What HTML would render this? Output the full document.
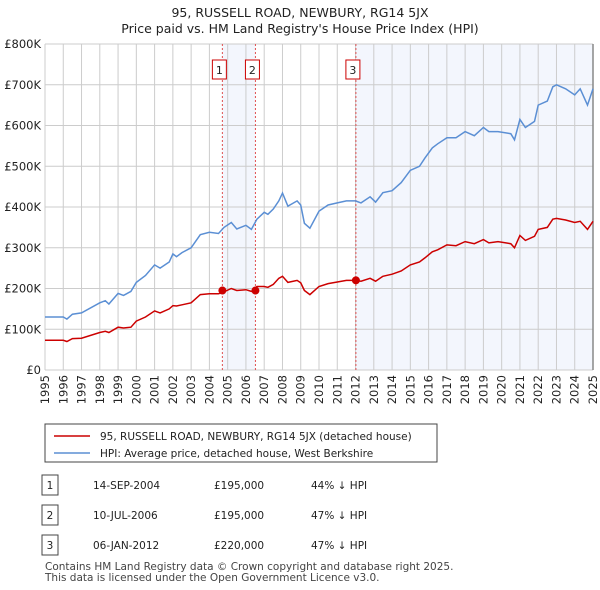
<!DOCTYPE html>
<html><head><meta charset="utf-8"><style>
body{margin:0;background:#fff;font-family:"Liberation Sans","DejaVu Sans",sans-serif;}
#wrap{position:relative;width:600px;height:590px;overflow:hidden}
svg text{font-family:"DejaVu Sans","Liberation Sans",sans-serif}
</style></head><body><div id="wrap">
<svg id="chart" width="600" height="590"></svg>
</div>
<script>
const yTicks=[0,100,200,300,400,500,600,700,800];
const yTickLabels=["£0","£100K","£200K","£300K","£400K","£500K","£600K","£700K","£800K"];
const xYears=[1995,1996,1997,1998,1999,2000,2001,2002,2003,2004,2005,2006,2007,2008,2009,2010,2011,2012,2013,2014,2015,2016,2017,2018,2019,2020,2021,2022,2023,2024,2025];
const hpiT=[1995,1996,1996.2,1996.5,1997,1998,1998.3,1998.5,1999,1999.3,1999.7,2000,2000.5,2001,2001.3,2001.8,2002,2002.2,2002.5,2003,2003.5,2004,2004.5,2004.8,2005.2,2005.5,2006,2006.3,2006.6,2007,2007.2,2007.5,2007.8,2008,2008.3,2008.8,2009,2009.2,2009.5,2010,2010.5,2011,2011.5,2012,2012.3,2012.8,2013.1,2013.5,2014,2014.5,2015,2015.5,2015.8,2016.2,2016.5,2017,2017.5,2018,2018.5,2019,2019.3,2019.8,2020.5,2020.7,2021,2021.3,2021.8,2022,2022.5,2022.8,2023,2023.5,2024,2024.3,2024.7,2025];
const hpiV=[130,130,125,137,140,165,170,162,188,183,193,215,232,258,250,265,285,278,288,300,332,338,335,350,362,346,355,345,370,387,382,395,415,434,402,415,405,360,348,390,405,410,415,415,410,425,412,435,440,460,490,500,520,545,555,570,570,585,575,595,585,585,580,565,615,595,610,650,660,695,700,690,675,690,650,690];
const ppT=hpiT;
const ppV=[73,73,70,77,78,92,95,92,105,103,105,120,130,145,140,150,158,157,160,165,185,187,187,192,200,195,197,193,205,205,203,210,225,230,215,220,214,195,185,205,212,216,220,220,218,225,218,230,235,243,258,265,275,290,295,307,305,315,310,320,312,315,310,300,330,318,328,345,350,370,372,368,362,365,345,365];
const sales=[{n:"1",t:2004.71,v:195},{n:"2",t:2006.52,v:195},{n:"3",t:2012.02,v:220}];
const X0=45,X1=593,Y0=370,Y1=44;
const xs=t=>X0+(t-1995)/30*(X1-X0);
const ys=v=>Y0-v/800*(Y0-Y1);
const svg=document.getElementById('chart');const NS="http://www.w3.org/2000/svg";
function mk(tag,a,p){const e=document.createElementNS(NS,tag);for(const k in a)e.setAttribute(k,a[k]);(p||svg).appendChild(e);return e;}
let e;
e=mk('text',{x:300,y:17,'text-anchor':'middle','font-size':12.5,fill:'#222'});e.textContent="95, RUSSELL ROAD, NEWBURY, RG14 5JX";


e=mk('text',{x:300,y:33,'text-anchor':'middle','font-size':12.5,fill:'#222'});e.textContent="Price paid vs. HM Land Registry's House Price Index (HPI)";


e=mk('rect',{x:xs(sales[0].t),y:Y1,width:xs(sales[1].t)-xs(sales[0].t),height:Y0-Y1,fill:'#eef2fc',opacity:0.7});


e=mk('rect',{x:xs(sales[2].t),y:Y1,width:X1-xs(sales[2].t),height:Y0-Y1,fill:'#eef2fc',opacity:0.7});


xYears.forEach(y=>{e=mk('line',{x1:xs(y),x2:xs(y),y1:Y1,y2:Y0,stroke:'#ccc','stroke-width':1});


e=mk('text',{transform:`translate(${xs(y)+4},${Y0+5}) rotate(-90)`,'text-anchor':'end','font-size':11.5,fill:'#222'});e.textContent=y;

});
yTicks.forEach((v,i)=>{e=mk('line',{x1:X0,x2:X1,y1:ys(v),y2:ys(v),stroke:'#ccc','stroke-width':1});


e=mk('text',{x:X0-4,y:ys(v)+4,'text-anchor':'end','font-size':11.5,fill:'#222'});e.textContent=yTickLabels[i];

});
e=mk('line',{x1:X1,x2:X1,y1:Y1,y2:Y0,stroke:'#888','stroke-width':1.5});


sales.forEach(s=>{e=mk('line',{x1:xs(s.t),x2:xs(s.t),y1:Y1,y2:Y0,stroke:'#e05050','stroke-dasharray':'2,2','stroke-width':1});


e=mk('rect',{x:xs(s.t)-10,y:60,width:14,height:19,fill:'#fff',stroke:'#c00'});


e=mk('text',{x:xs(s.t)-3,y:74,'text-anchor':'middle','font-size':11,fill:'#222'});e.textContent=s.n;

});
const path=(T,V)=>T.map((t,i)=>(i?'L':'M')+xs(t).toFixed(1)+','+ys(V[i]).toFixed(1)).join('');
e=mk('path',{d:path(hpiT,hpiV),fill:'none',stroke:'#5b8fd4','stroke-width':1.5});


e=mk('path',{d:path(ppT,ppV),fill:'none',stroke:'#cc0000','stroke-width':1.5});


sales.forEach(s=>{e=mk('circle',{cx:xs(s.t),cy:ys(s.v),r:4,fill:'#cc0000'});

});
e=mk('rect',{x:45,y:424,width:392,height:38,fill:'#fff',stroke:'#444'});


e=mk('line',{x1:54,x2:90,y1:436,y2:436,stroke:'#cc0000','stroke-width':1.5});


e=mk('text',{x:100,y:440,'font-size':10.5,fill:'#222'});e.textContent="95, RUSSELL ROAD, NEWBURY, RG14 5JX (detached house)";


e=mk('line',{x1:54,x2:90,y1:453,y2:453,stroke:'#5b8fd4','stroke-width':1.5});


e=mk('text',{x:100,y:457,'font-size':10.5,fill:'#222'});e.textContent="HPI: Average price, detached house, West Berkshire";


const rows=[["1","14-SEP-2004","£195,000","44% ↓ HPI"],["2","10-JUL-2006","£195,000","47% ↓ HPI"],["3","06-JAN-2012","£220,000","47% ↓ HPI"]];
rows.forEach((r,i)=>{const cy=485+i*30;
e=mk('rect',{x:42,y:cy-10,width:16,height:20,fill:'#fff',stroke:'#444'});


e=mk('text',{x:50,y:cy+4,'text-anchor':'middle','font-size':10.5,fill:'#222'});e.textContent=r[0];


e=mk('text',{x:93,y:cy+4,'font-size':10.5,fill:'#222'});e.textContent=r[1];


e=mk('text',{x:214,y:cy+4,'font-size':10.5,fill:'#222'});e.textContent=r[2];


e=mk('text',{x:311,y:cy+4,'font-size':10.5,fill:'#222'});e.textContent=r[3];

});
e=mk('text',{x:45,y:570,'font-size':10.5,fill:'#444'});e.textContent="Contains HM Land Registry data © Crown copyright and database right 2025.";


e=mk('text',{x:45,y:581,'font-size':10.5,fill:'#444'});e.textContent="This data is licensed under the Open Government Licence v3.0.";


</script></body></html>
